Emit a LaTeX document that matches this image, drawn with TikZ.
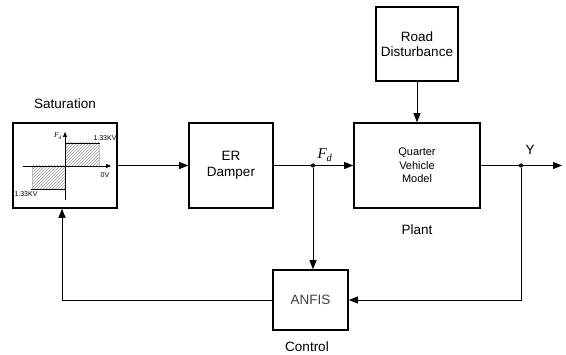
\documentclass[tikz,border=0pt]{standalone}
\usepackage{fontspec}
\setmainfont{Liberation Sans}
\newfontfamily\tnr{Liberation Serif}
\usetikzlibrary{arrows.meta,patterns}
\tikzset{
  blk/.style={draw, line width=1.6pt, fill=white, align=center, inner sep=0pt,
    font=\fontsize{13.5}{15.5}\selectfont},
  conn/.style={line width=0.8pt},
  arr/.style={conn, -{Triangle[length=9pt,width=7pt]}},
  small arr/.style={line width=0.6pt, -{Triangle[length=5pt,width=4pt]}},
  lbl/.style={inner sep=0pt, font=\fontsize{13.5}{15.5}\selectfont},
  tiny/.style={inner sep=0pt, font=\fontsize{7}{8}\selectfont},
  jdot/.style={circle, fill=black, inner sep=0pt, minimum size=4.2pt},
  hatch/.style={pattern=north east lines, pattern color=gray!80, draw=gray!50, line width=0.3pt}
}
\begin{document}
\begin{tikzpicture}[x=1pt,y=-1pt]
\useasboundingbox (0,0) rectangle (566,355);
% blocks
\node[blk, minimum width=104pt, minimum height=85pt] (sat) at (65,165.5) {};
\node[blk, minimum width=84pt, minimum height=85pt] (er) at (231,165.5) {ER\\Damper};
\node[blk, minimum width=126pt, minimum height=85pt, font=\fontsize{11}{13.5}\selectfont] (qvm) at (417,165.5) {Quarter\\Vehicle\\Model};
\node[blk, minimum width=82pt, minimum height=74pt] (road) at (417,44) {Road\\Disturbance};
\node[blk, minimum width=75pt, minimum height=60pt, text=black!75] (anfis) at (310.5,300) {ANFIS};
% labels
\node[lbl] (satl) at (65,104) {Saturation};
\node[lbl] (plantl) at (417,230) {Plant};
\node[lbl] (ctrll) at (307,347) {Control};
\node[lbl] (yl) at (530,150) {Y};
\node[lbl, font=\tnr\fontsize{15}{17}\selectfont\itshape] (fdl) at (325,155) {F\textsubscript{d}};
% saturation characteristic
\draw[hatch] (65,143) rectangle (99,166);
\draw[hatch] (32,166) rectangle (65,189);
\draw[line width=0.7pt] (65,143) -- (100,143);
\draw[line width=0.7pt] (31,189) -- (65,189);
\draw[small arr] (23,166) -- (111,166);
\draw[small arr] (65,200) -- (65,132);
\node[tiny] (t1) at (105,138) {1.33KV};
\node[tiny] (t2) at (105,175) {0V};
\node[tiny] (t3) at (26,194) {1.33KV};
\node[tiny, font=\tnr\fontsize{7.5}{8}\selectfont\itshape] (t4) at (58,136) {F\textsubscript{d}};
% junctions
\node[jdot] (jf) at (313,165.5) {};
\node[jdot] (jy) at (521,165.5) {};
\coordinate (out) at (562,165.5);
\coordinate (fb) at (62,300);
% connectors
\draw[arr] (sat.east) -- (er.west);
\draw[conn] (er.east) -- (jf);
\draw[arr] (jf) -- (qvm.west);
\draw[arr] (road.south) -- (qvm.north);
\draw[conn] (qvm.east) -- (jy);
\draw[arr] (jy) -- (out);
\draw[arr] (jf) -- (jf |- anfis.north);
\draw[arr] (jy) |- (anfis.east);
\draw[arr] (anfis.west) -- (fb) -- (fb |- sat.south);
\end{tikzpicture}
\end{document}
